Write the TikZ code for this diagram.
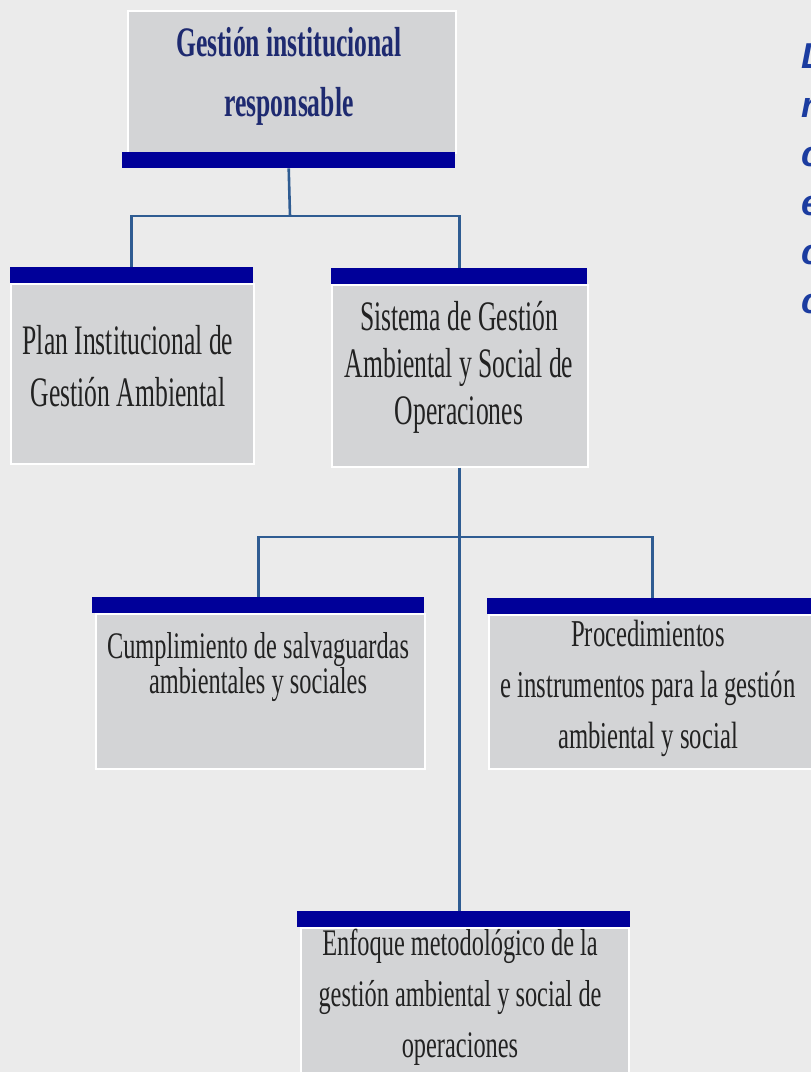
\documentclass[tikz,border=0pt]{standalone}
\usepackage{fontspec}
\newfontfamily\condA[FakeStretch=0.61]{Liberation Serif}
\newfontfamily\condB[FakeStretch=0.65]{Liberation Serif}
\newfontfamily\sidefont{Liberation Sans}
\definecolor{bgc}{HTML}{EBEBEB}
\definecolor{boxgray}{HTML}{D3D4D6}
\definecolor{barblue}{HTML}{000099}
\definecolor{connc}{HTML}{2F5C92}
\definecolor{toptext}{HTML}{1E2A70}
\definecolor{bodytext}{HTML}{222222}
\definecolor{sideblue}{HTML}{1B3CA0}
\tikzset{
  gbox/.style={fill=boxgray, draw=white, line width=1.5pt, inner sep=0pt, anchor=north west},
  bluebar/.style={fill=barblue, draw=none, inner sep=0pt, anchor=north west, minimum height=16pt},
  conn/.style={draw=connc, line width=2.6pt},
  btext/.style={text=bodytext, align=center, inner sep=0pt},
  sidetext/.style={font=\sidefont\bfseries\itshape\fontsize{36}{40}\selectfont, text=sideblue, anchor=base west, inner sep=0pt}
}
\begin{document}
\begin{tikzpicture}[x=1pt, y=-1pt]
\useasboundingbox (0,0) rectangle (811,1072);
\fill[bgc] (0,0) rectangle (811,1072);
% top box
\node[gbox, minimum width=328pt, minimum height=142pt] (top) at (127,10) {};
\node[bluebar, minimum width=333pt] (topbar) at (122,152) {};
\node[btext, font=\condA\bfseries\fontsize{42}{60}\selectfont, text=toptext] (toptxt) at (289,76) {Gestión institucional\\responsable};
% plan
\node[bluebar, minimum width=243pt] (planbar) at (10,267) {};
\node[gbox, minimum width=243pt, minimum height=180pt] (plan) at (10,283) {};
\node[btext, font=\condA\fontsize{42}{52}\selectfont] (plantxt) at (128,366) {Plan Institucional de\\Gestión Ambiental};
% sistema
\node[bluebar, minimum width=256pt] (sisbar) at (331,268) {};
\node[gbox, minimum width=256pt, minimum height=182pt] (sis) at (331,284) {};
\node[btext, font=\condA\fontsize{42}{47}\selectfont] (sistxt) at (459,367) {Sistema de Gestión\\Ambiental y Social de\\Operaciones};
% cumplimiento
\node[bluebar, minimum width=332pt] (cumbar) at (92,597) {};
\node[gbox, minimum width=329pt, minimum height=155pt] (cum) at (95,613) {};
\node[btext, font=\condB\fontsize{37.5}{35}\selectfont] (cumtxt) at (258,667) {Cumplimiento de salvaguardas\\ambientales y sociales};
% procedimientos
\node[bluebar, minimum width=330pt] (probar) at (487,598) {};
\node[gbox, minimum width=330pt, minimum height=154pt] (pro) at (488,614) {};
\node[btext, font=\condB\fontsize{38}{51}\selectfont] (protxt) at (648,688) {Procedimientos\\e instrumentos para la gestión\\ambiental y social};
% enfoque
\node[bluebar, minimum width=333pt] (enfbar) at (297,911) {};
\node[gbox, minimum width=328pt, minimum height=150pt] (enf) at (300,927) {};
\node[btext, font=\condB\fontsize{37.5}{51}\selectfont] (enftxt) at (460,997) {Enfoque metodológico de la\\gestión ambiental y social de\\operaciones};
% connectors
\coordinate (j1) at (290,216);
\coordinate (j2) at (458,537);
\draw[conn] (topbar.south) -- (j1);
\draw[conn] (planbar.north) |- (j1) -| (sisbar.north);
\draw[conn] (sis.south) -- (sis.south |- enfbar.north);
\draw[conn] (cumbar.north) |- (j2) -| (probar.north);
% side text (cut off at the right edge)
\node[sidetext] (s1) at (801,68) {L};
\node[sidetext] (s2) at (801,117) {r};
\node[sidetext] (s3) at (801,166) {c};
\node[sidetext] (s4) at (801,215) {e};
\node[sidetext] (s5) at (801,264) {c};
\node[sidetext] (s6) at (801,313) {c};
\end{tikzpicture}
\end{document}
